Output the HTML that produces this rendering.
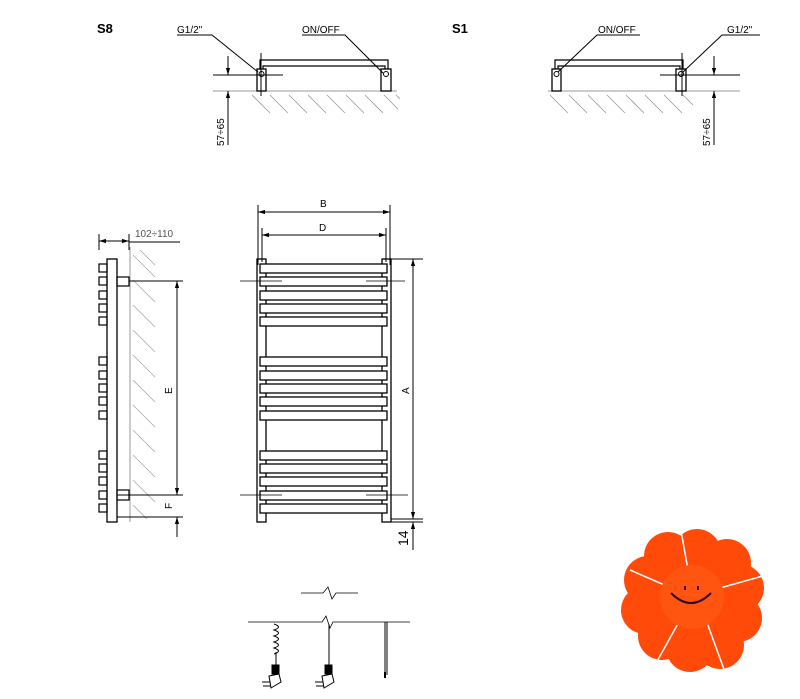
<!DOCTYPE html>
<html><head><meta charset="utf-8"><style>body{margin:0;background:#fff}svg{display:block}</style></head><body>
<svg width="800" height="699" viewBox="0 0 800 699" xmlns="http://www.w3.org/2000/svg" font-family="Liberation Sans, sans-serif">
<defs>
<marker id="a" viewBox="0 0 10 10" refX="10" refY="5" markerWidth="7" markerHeight="7" orient="auto-start-reverse"><path d="M0,2 L10,5 L0,8z" fill="#000"/></marker>
</defs>
<g stroke="#000" fill="none" stroke-width="1">
<!-- S8 -->
<line x1="213" y1="91" x2="397" y2="91" stroke="#999"/>
<g stroke="#999" stroke-width="0.8">
<path d="M252 95l18 18M270 95l18 18M289 95l18 18M308 95l18 18M327 95l18 18M346 95l18 18M365 95l18 18M384 95l14 14M396 95l4 4"/>
</g>
<path d="M260 69V60H388V69M263 69V66H385V69" stroke-width="1.2"/>
<rect x="257" y="69" width="9" height="22" stroke-width="1.3"/>
<rect x="381" y="69" width="10" height="22" stroke-width="1.3"/>
<circle cx="261.5" cy="74" r="2.5"/><circle cx="386" cy="74" r="2.5"/>
<line x1="261" y1="53" x2="261" y2="96"/>
<line x1="213" y1="75" x2="283" y2="75"/>
<line x1="228" y1="56" x2="228" y2="75" marker-end="url(#a)"/>
<line x1="228" y1="145" x2="228" y2="91" marker-end="url(#a)"/>
<path d="M177 35H212L258 72M302 35H345L383 73"/>
<!-- S1 -->
<line x1="548" y1="91" x2="740" y2="91" stroke="#999"/>
<g stroke="#999" stroke-width="0.8">
<path d="M550 95l18 18M569 95l18 18M588 95l18 18M607 95l18 18M626 95l18 18M645 95l18 18M664 95l18 18M683 95l10 10"/>
</g>
<path d="M555 69V60H683V69M558 69V66H680V69" stroke-width="1.2"/>
<rect x="552" y="69" width="9" height="22" stroke-width="1.3"/>
<rect x="676" y="69" width="10" height="22" stroke-width="1.3"/>
<circle cx="556.5" cy="74" r="2.5"/><circle cx="681" cy="74" r="2.5"/>
<line x1="682" y1="53" x2="682" y2="96"/>
<line x1="660" y1="75" x2="740" y2="75"/>
<line x1="714" y1="56" x2="714" y2="75" marker-end="url(#a)"/>
<line x1="714" y1="145" x2="714" y2="91" marker-end="url(#a)"/>
<path d="M640 35H597L558 72M760 35H722L683 72"/>
<!-- side view -->
<line x1="130" y1="247" x2="130" y2="522" stroke="#999"/>
<g stroke="#aaa" stroke-width="0.8">
<path d="M133 255l22 22M133 280l22 22M133 305l22 22M133 330l22 22M133 355l22 22M133 380l22 22M133 405l22 22M133 430l22 22M133 455l22 22M133 480l22 22M133 505l14 14M140 250l15 15"/>
</g>
<rect x="107" y="259" width="10" height="263" stroke-width="1.3"/>
<g stroke-width="1.2">
<rect x="99" y="264" width="8" height="8"/><rect x="99" y="277" width="8" height="8"/><rect x="99" y="291" width="8" height="8"/><rect x="99" y="304" width="8" height="8"/><rect x="99" y="317" width="8" height="8"/>
<rect x="99" y="357" width="8" height="8"/><rect x="99" y="371" width="8" height="8"/><rect x="99" y="384" width="8" height="8"/><rect x="99" y="397" width="8" height="8"/><rect x="99" y="411" width="8" height="8"/>
<rect x="99" y="451" width="8" height="8"/><rect x="99" y="464" width="8" height="8"/><rect x="99" y="477" width="8" height="8"/><rect x="99" y="491" width="8" height="8"/><rect x="99" y="504" width="8" height="8"/>
<rect x="117" y="277" width="12" height="9"/><rect x="117" y="490" width="12" height="10"/>
</g>
<path d="M99 234V250M129 234V250"/>
<line x1="99" y1="241" x2="129" y2="241" marker-start="url(#a)" marker-end="url(#a)"/>
<line x1="129" y1="242" x2="180" y2="242"/>
<path d="M129 281H183M117 495H183M117 517H183"/>
<line x1="177" y1="281" x2="177" y2="495" marker-start="url(#a)" marker-end="url(#a)"/>
<line x1="177" y1="537" x2="177" y2="517" marker-end="url(#a)"/>
<!-- front view -->
<path d="M258 205V265M390 205V265M262 228V262M386 228V262"/>
<line x1="258" y1="212" x2="390" y2="212" marker-start="url(#a)" marker-end="url(#a)"/>
<line x1="262" y1="235" x2="386" y2="235" marker-start="url(#a)" marker-end="url(#a)"/>
<rect x="257" y="259" width="9" height="263" stroke-width="1.3"/>
<rect x="382" y="259" width="9" height="263" stroke-width="1.3"/>
<g fill="#fff" stroke-width="1.3">
<rect x="260" y="264" width="127" height="9"/><rect x="260" y="277" width="127" height="9"/><rect x="260" y="291" width="127" height="9"/><rect x="260" y="304" width="127" height="9"/><rect x="260" y="317" width="127" height="9"/>
<rect x="260" y="357" width="127" height="9"/><rect x="260" y="371" width="127" height="9"/><rect x="260" y="384" width="127" height="9"/><rect x="260" y="397" width="127" height="9"/><rect x="260" y="411" width="127" height="9"/>
<rect x="260" y="451" width="127" height="9"/><rect x="260" y="464" width="127" height="9"/><rect x="260" y="477" width="127" height="9"/><rect x="260" y="491" width="127" height="9"/><rect x="260" y="504" width="127" height="9"/>
</g>
<path d="M240 281H282M366 281H405M240 495H282M366 495H408" stroke-width="0.8"/>
<path d="M391 259H423M391 519H423M391 522H423"/>
<line x1="413" y1="259" x2="413" y2="519" marker-start="url(#a)" marker-end="url(#a)"/>
<line x1="413" y1="550" x2="413" y2="522" marker-end="url(#a)"/>
<!-- bottom -->
<path d="M301 593H323L328 587L332 599L336 593H358" stroke-width="0.8"/>
<path d="M248 622H322L326 616L330 628L333 622H410" stroke-width="0.8"/>
<path d="M274 624c6 2 6 4 0 6c6 2 6 4 0 6c6 2 6 4 0 6c6 2 6 4 0 6c6 2 6 4 0 6" stroke-width="1"/>
<path d="M276 652V665M329 624V665M385 622V675M387 622V675"/>
<rect x="272" y="665" width="7" height="9" fill="#000"/>
<rect x="325" y="665" width="7" height="9" fill="#000"/>
<path d="M269 676l10 -2l2 8l-10 6zM262 682h8M263 686h8M322 676l10 -2l2 8l-10 6zM315 682h8M316 686h8"/>
<line x1="385" y1="672" x2="385" y2="678" stroke-width="2"/>
</g>
<g font-size="10" fill="#000">
<text x="97" y="33" font-weight="bold" font-size="13">S8</text>
<text x="452" y="33" font-weight="bold" font-size="13">S1</text>
<text x="177" y="33">G1/2"</text>
<text x="302" y="33">ON/OFF</text>
<text x="598" y="33">ON/OFF</text>
<text x="727" y="33">G1/2"</text>
<text transform="translate(224,146) rotate(-90)">57÷65</text>
<text transform="translate(710,146) rotate(-90)">57÷65</text>
<text x="135" y="237" fill="#555">102÷110</text>
<text x="320" y="207">B</text>
<text x="319" y="231">D</text>
<text transform="translate(172,394) rotate(-90)">E</text>
<text transform="translate(172,509) rotate(-90)">F</text>
<text transform="translate(409,394) rotate(-90)">A</text>
<text transform="translate(408,546) rotate(-90)" font-size="14">14</text>
</g>
<!-- flower -->
<g fill="#ff4a0a">
<circle cx="692" cy="600" r="42"/>
<circle cx="697" cy="553" r="24"/><circle cx="727" cy="563" r="24"/>
<circle cx="740" cy="588" r="24"/><circle cx="738" cy="618" r="24"/>
<circle cx="720" cy="645" r="24"/><circle cx="690" cy="648" r="24"/>
<circle cx="662" cy="636" r="24"/><circle cx="645" cy="610" r="24"/>
<circle cx="648" cy="580" r="24"/><circle cx="668" cy="556" r="24"/>
</g>
<g stroke="#fff" stroke-width="1.5">
<path d="M676 590L630 570M720 588L770 574M706 620L725 672M680 620L655 665M688 570L680 525"/>
</g>
<circle cx="692" cy="597" r="32" fill="#ff5510"/>
<path d="M671 593q20 20 40 0" stroke="#2a0a2a" stroke-width="2" fill="none"/>
<path d="M685 590v-4M698 590v-4" stroke="#2a0a2a" stroke-width="1.8"/>
</svg>
</body></html>
